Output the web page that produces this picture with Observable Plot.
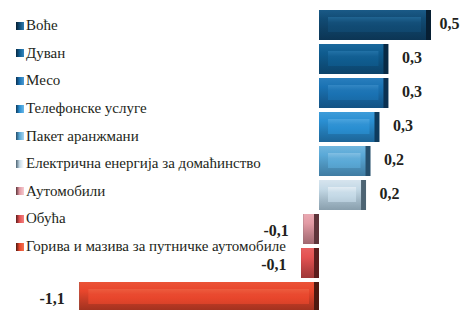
<!DOCTYPE html>
<html>
<head>
<meta charset="utf-8">
<script src="https://cdn.jsdelivr.net/npm/d3@7"></script>
<script src="https://cdn.jsdelivr.net/npm/@observablehq/plot@0.6"></script>
<style>
  html, body { margin: 0; padding: 0; background: #fff; }
  #wrap { position: relative; width: 461px; height: 310px; overflow: hidden; }
  #wrap svg { position: absolute; left: 0; top: 0; }
  #legend { position: absolute; left: 16px; top: 12px; font-family: 'Liberation Serif', 'Times New Roman', Times, 'DejaVu Serif', serif; font-size: 15px; color: #231f20; }
  .row { display: flex; align-items: center; height: 27.6px; white-space: nowrap; }
  .sq { width: 8px; height: 8px; margin-right: 2px; flex: none; }
</style>
</head>
<body>
<div id="wrap"><div id="legend"></div></div>
<script>
// Categories (top to bottom)
const categories = [
  "Воће",
  "Дуван",
  "Месо",
  "Телефонске услуге",
  "Пакет аранжмани",
  "Електрична енергија за домаћинство",
  "Аутомобили",
  "Обућа",
  "Горива и мазива за путничке аутомобиле"
];
// Bar lengths
const values = [0.50, 0.31, 0.31, 0.27, 0.23, 0.21, -0.07, -0.08, -1.07];
// Data labels as printed
const valueLabels = ["0,5", "0,3", "0,3", "0,3", "0,2", "0,2", "-0,1", "-0,1", "-1,1"];
// Colours: base, light, dark
const baseColors  = ["#114b74", "#0f5c8f", "#1a72b3", "#2a8fd2", "#5aa9d7", "#c4d9e6", "#e39ba5", "#e45252", "#e8462c"];
const lightColors = ["#2f7eb2", "#3487bf", "#4c9bd4", "#6cb9e9", "#a8d5ef", "#ffffff", "#f6cbd0", "#f28282", "#f2724f"];
const darkColors  = ["#071f33", "#082a45", "#0b3152", "#0e3b5d", "#254f6c", "#4d6473", "#5e343a", "#5c1d1d", "#4e1a10"];

const data = categories.map((c, i) => ({i, category: c, value: values[i], label: valueLabels[i]}));

const serif = "'Liberation Serif', 'Times New Roman', Times, 'DejaVu Serif', serif";

const chart = Plot.plot({
  width: 461,
  height: 310,
  margin: 0,
  style: {background: "transparent", overflow: "visible"},
  x: {domain: [-1.4, 0.6], range: [5.4, 453.4], axis: null},
  y: {domain: categories, range: [7, 314], paddingInner: 0.12, paddingOuter: 0.06, axis: null},
  marks: [
    // dark right edge / shadow
    Plot.barX(data, {x: "value", y: "category", fill: d => darkColors[d.i]}),
    // bevel frame
    Plot.barX(data, {x: "value", y: "category", insetRight: 5, fill: d => `url(#gv${d.i})`}),
    // inner face
    Plot.barX(data, {x: "value", y: "category", insetLeft: 9, insetRight: 10, insetTop: 7, insetBottom: 8, fill: d => `url(#gf${d.i})`}),
    // labels
    Plot.text(data.filter(d => d.value > 0 && d.i > 0), {x: "value", y: "category", text: "label", textAnchor: "start", dx: 13, dy: -2, fontFamily: serif, fontWeight: "bold", fontSize: 16, fill: "#231f20"}),
    Plot.text(data.filter(d => d.i === 0), {x: "value", y: "category", text: "label", textAnchor: "start", dx: 8, dy: -2, fontFamily: serif, fontWeight: "bold", fontSize: 16, fill: "#231f20"}),
    Plot.text(data.filter(d => d.value < 0), {x: "value", y: "category", text: "label", textAnchor: "end", dx: -15, dy: 1, fontFamily: serif, fontWeight: "bold", fontSize: 16, fill: "#231f20"})
  ]
});

// gradients
const mix = (a, b, t) => d3.interpolateRgb(a, b)(t);
const defs = d3.select(chart).insert("defs", ":first-child");
data.forEach(d => {
  const b = baseColors[d.i], l = lightColors[d.i], k = darkColors[d.i];
  const gv = defs.append("linearGradient").attr("id", `gv${d.i}`).attr("x1", 0).attr("y1", 0).attr("x2", 0).attr("y2", 1);
  gv.append("stop").attr("offset", "0").attr("stop-color", mix(b, l, 0.3));
  gv.append("stop").attr("offset", "0.3").attr("stop-color", b);
  gv.append("stop").attr("offset", "0.7").attr("stop-color", mix(b, k, 0.3));
  gv.append("stop").attr("offset", "1").attr("stop-color", mix(b, k, 0.5));
  const gf = defs.append("linearGradient").attr("id", `gf${d.i}`).attr("x1", 0).attr("y1", 0).attr("x2", 0).attr("y2", 1);
  gf.append("stop").attr("offset", "0").attr("stop-color", mix(b, l, 0.5));
  gf.append("stop").attr("offset", "0.35").attr("stop-color", mix(b, l, 0.1));
  gf.append("stop").attr("offset", "0.6").attr("stop-color", b);
  gf.append("stop").attr("offset", "1").attr("stop-color", mix(b, k, 0.1));
});

const wrap = document.getElementById("wrap");
wrap.insertBefore(chart, wrap.firstChild);

// legend
const legend = d3.select("#legend");
data.forEach(d => {
  const row = legend.append("div").attr("class", "row");
  row.append("span").attr("class", "sq")
    .style("background", `linear-gradient(90deg, ${darkColors[d.i]} 0%, ${baseColors[d.i]} 45%, ${lightColors[d.i]} 100%)`);
  row.append("span").text(d.category);
});
</script>
</body>
</html>
